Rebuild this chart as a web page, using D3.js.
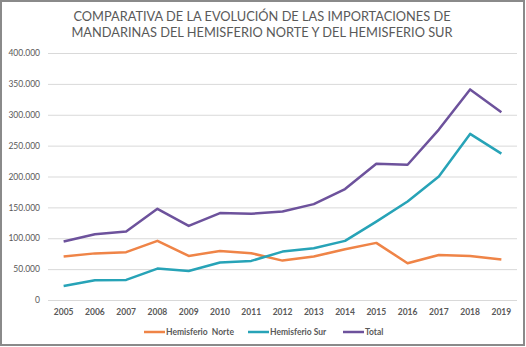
<!DOCTYPE html>
<html>
<head>
<meta charset="utf-8">
<script src="https://cdn.jsdelivr.net/npm/d3@7"></script>
<style>
  html, body { margin: 0; padding: 0; background: #fff; }
  svg { display: block; font-family: Lato, "Open Sans", sans-serif; }
</style>
</head>
<body>
<div id="chart"></div>
<script>
const years = ["2005","2006","2007","2008","2009","2010","2011","2012","2013","2014","2015","2016","2017","2018","2019"];
const norte = [70300, 75500, 77500, 95800, 71400, 79500, 75800, 63800, 70300, 82300, 92500, 59500, 73000, 71400, 65500];
const sur   = [22700, 32000, 32500, 50900, 47000, 60600, 63300, 78400, 83900, 95800, 127000, 159600, 200000, 269000, 237000];
const total = [94600, 106600, 110900, 147700, 120000, 140700, 139600, 143400, 155300, 179700, 220800, 219000, 276000, 341000, 304000];
const yTicks = [0, 50000, 100000, 150000, 200000, 250000, 300000, 350000, 400000];
const titleLines = ["COMPARATIVA DE LA EVOLUCIÓN DE LAS IMPORTACIONES DE",
                    "MANDARINAS DEL HEMISFERIO NORTE Y DEL HEMISFERIO SUR"];

const series = [
  { name: "Hemisferio  Norte", values: norte, color: "#ef8447" },
  { name: "Hemisferio Sur", values: sur, color: "#27a3b7" },
  { name: "Total", values: total, color: "#6d529c" }
];

const W = 526, H = 347;
const margin = { top: 53, right: 9, bottom: 47, left: 48 };
const innerW = W - margin.left - margin.right;
const innerH = H - margin.top - margin.bottom;

const svg = d3.select("#chart").append("svg")
  .attr("width", W).attr("height", H);

svg.append("rect")
  .attr("x", 1).attr("y", 1).attr("width", W - 3).attr("height", H - 3)
  .attr("fill", "#fff").attr("stroke", "#8a8a8a").attr("stroke-width", 2);

svg.append("g").selectAll("text")
  .data(titleLines)
  .join("text")
  .attr("x", 262).attr("y", (d, i) => 21 + i * 16)
  .attr("text-anchor", "middle")
  .attr("font-size", 12.8)
  .attr("fill", "#595959")
  .text(d => d);

const chart = svg.append("g")
  .attr("transform", `translate(${margin.left},${margin.top})`);

const x = d3.scaleBand().domain(years).range([0, innerW]);
const y = d3.scaleLinear().domain([0, 400000]).range([innerH, 0]);

const fmt = v => d3.format(",")(v).replace(/,/g, ".");

// gridlines
chart.append("g")
  .call(d3.axisLeft(y).tickValues(yTicks).tickSize(-innerW).tickFormat(fmt).tickPadding(8))
  .call(g => g.select(".domain").remove())
  .call(g => g.selectAll(".tick line").attr("stroke", "#d9d9d9"))
  .call(g => g.selectAll(".tick text").attr("fill", "#595959").attr("font-size", 8.5)
    .attr("font-family", "Lato, sans-serif"));

chart.append("g")
  .attr("transform", `translate(0,${innerH})`)
  .call(d3.axisBottom(x).tickSize(0).tickPadding(9))
  .call(g => g.select(".domain").remove())
  .call(g => g.selectAll(".tick text").attr("fill", "#595959").attr("font-size", 8.5)
    .attr("font-weight", "bold").attr("font-family", "Lato, sans-serif"));

const line = d3.line()
  .x((d, i) => x(years[i]) + x.bandwidth() / 2)
  .y(d => y(d));

chart.selectAll(".series")
  .data(series)
  .join("path")
  .attr("class", "series")
  .attr("fill", "none")
  .attr("stroke", d => d.color)
  .attr("stroke-width", 2.5)
  .attr("stroke-linejoin", "round")
  .attr("d", d => line(d.values));

// legend
const legendX = [144, 248, 343];
const legend = svg.append("g").attr("transform", "translate(0,332)");
const item = legend.selectAll("g")
  .data(series)
  .join("g")
  .attr("transform", (d, i) => `translate(${legendX[i]},0)`);
item.append("line")
  .attr("x1", 0).attr("x2", 21)
  .attr("stroke", d => d.color).attr("stroke-width", 2.5);
item.append("text")
  .attr("x", 22).attr("dy", "0.35em")
  .attr("font-size", 8.5).attr("font-weight", "bold")
  .attr("fill", "#595959")
  .attr("xml:space", "preserve")
  .style("white-space", "pre")
  .text(d => d.name);
</script>
</body>
</html>
